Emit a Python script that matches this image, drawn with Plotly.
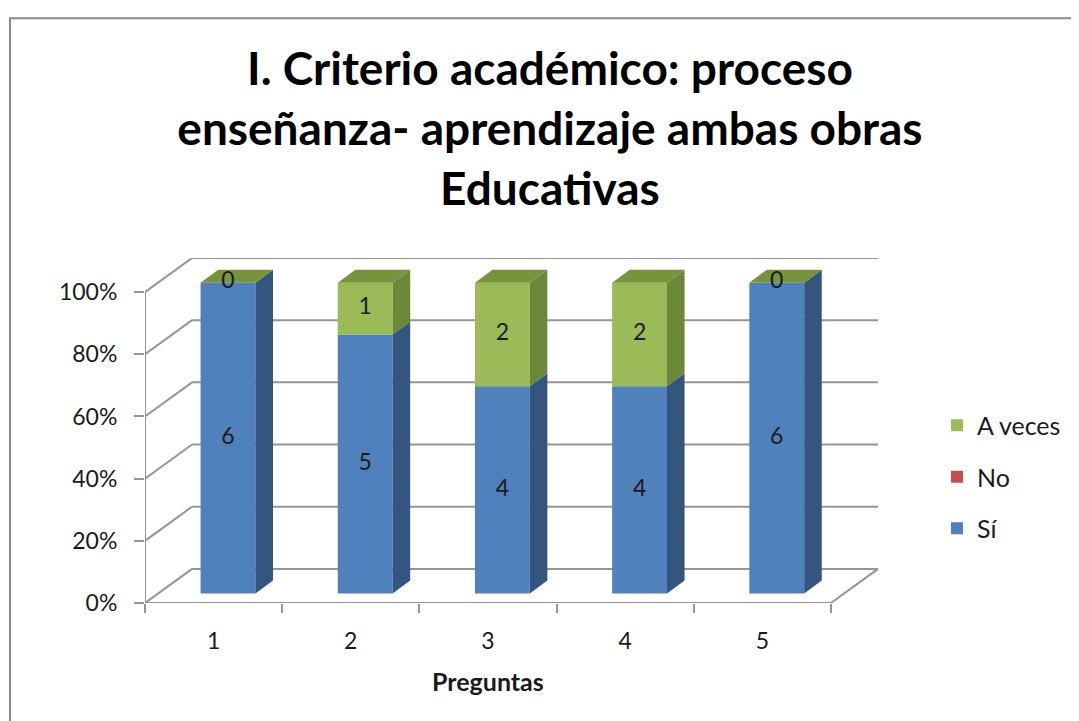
import plotly.graph_objects as go

# ---------------- data ----------------
categories = [1, 2, 3, 4, 5]
si = [6, 5, 4, 4, 6]
no = [0, 0, 0, 0, 0]
a_veces = [0, 1, 2, 2, 0]
series_names = ["Sí", "No", "A veces"]
y_ticks = [0, 20, 40, 60, 80, 100]
y_tick_labels = ["0%", "20%", "40%", "60%", "80%", "100%"]
title_text = "I. Criterio académico: proceso<br>enseñanza- aprendizaje ambas obras<br>Educativas"
x_title = "Preguntas"

# ---------------- style ----------------
front_colors = ["#4F81BD", "#C0504D", "#9BBB59"]
side_colors = ["#34567E", "#8C3836", "#6B8739"]
top_colors = ["#5B8AC2", "#C85C59", "#77933C"]
legend_ranks = [3, 2, 1]
grid_color = "#959595"
DEPTH_X, DEPTH_Y = 0.343, 10.97     # back-wall offset (data units)
BAR_DX, BAR_DY = 0.105, 3.03        # bar front-face offset
SIDE_DX, SIDE_DY = 0.128, 4.19      # bar depth
BAR_W = 0.40
LABEL_FONT = "Lato, 'Open Sans', sans-serif"

series_values = [si, no, a_veces]
totals = [sum(v) for v in zip(*series_values)]
pcts = [[v / t * 100 for v, t in zip(vals, totals)] for vals in series_values]

x_lo, x_hi = categories[0] - 0.5, categories[-1] + 0.5

fig = go.Figure()

# ---- gridlines / walls (behind bars) ----
shapes = []
gl = dict(color=grid_color, width=2)
for v in y_ticks:
    shapes.append(dict(type="line", xref="x", yref="y", layer="below",
                       x0=x_lo, y0=v, x1=x_lo + DEPTH_X, y1=v + DEPTH_Y, line=gl))
    shapes.append(dict(type="line", xref="x", yref="y", layer="below",
                       x0=x_lo + DEPTH_X, y0=v + DEPTH_Y, x1=x_hi + DEPTH_X, y1=v + DEPTH_Y, line=gl))
# floor front edge, right edge, vertical axis line
shapes.append(dict(type="line", xref="x", yref="y", layer="below",
                   x0=x_lo, y0=0, x1=x_hi, y1=0, line=gl))
shapes.append(dict(type="line", xref="x", yref="y", layer="below",
                   x0=x_hi, y0=0, x1=x_hi + DEPTH_X, y1=DEPTH_Y, line=gl))
shapes.append(dict(type="line", xref="x", yref="y", layer="below",
                   x0=x_lo, y0=0, x1=x_lo, y1=y_ticks[-1], line=gl))
# chart frame
shapes.append(dict(type="rect", xref="paper", yref="paper", layer="below",
                   x0=-0.1842, y0=-0.6, x1=1.4, y1=1.695,
                   line=dict(color="#8A8A8A", width=2), fillcolor="rgba(0,0,0,0)"))

# ---- front faces as bars ----
cum = [0.0] * len(categories)
bases_all = []
for name, vals, col, rank in zip(series_names, pcts, front_colors, legend_ranks):
    bases = [BAR_DY + c for c in cum]
    bases_all.append(bases)
    fig.add_trace(go.Bar(
        x=[c + BAR_DX for c in categories], y=vals, base=bases, width=BAR_W,
        name=name, legendgroup=name, legendrank=rank,
        marker=dict(color=col, line=dict(width=0)),
        hoverinfo="skip",
    ))
    cum = [c + v for c, v in zip(cum, vals)]

# ---- side faces ----
for name, vals, bases, col in zip(series_names, pcts, bases_all, side_colors):
    xs, ys = [], []
    for c, h, b in zip(categories, vals, bases):
        if h <= 0:
            continue
        xr = c + BAR_DX + BAR_W / 2
        t = b + h
        xs += [xr, xr + SIDE_DX, xr + SIDE_DX, xr, xr, None]
        ys += [b, b + SIDE_DY, t + SIDE_DY, t, b, None]
    if xs:
        fig.add_trace(go.Scatter(x=xs, y=ys, mode="lines", fill="toself", fillcolor=col,
                                 line=dict(width=0, color=col), showlegend=False, hoverinfo="skip"))

# ---- top faces (colour of topmost series) ----
xs, ys = [], []
for i, c in enumerate(categories):
    t = BAR_DY + cum[i]
    xl = c + BAR_DX - BAR_W / 2
    xr = c + BAR_DX + BAR_W / 2
    xs += [xl, xl + SIDE_DX, xr + SIDE_DX, xr, xl, None]
    ys += [t, t + SIDE_DY, t + SIDE_DY, t, t, None]
fig.add_trace(go.Scatter(x=xs, y=ys, mode="lines", fill="toself", fillcolor=top_colors[-1],
                         line=dict(width=0, color=top_colors[-1]), showlegend=False, hoverinfo="skip"))

# ---- data labels (Sí and A veces) ----
for idx in (0, 2):
    vals_raw = series_values[idx]
    fig.add_trace(go.Scatter(
        x=[c + BAR_DX for c in categories],
        y=[b + h / 2 for b, h in zip(bases_all[idx], pcts[idx])],
        text=[str(v) for v in vals_raw], mode="text",
        textfont=dict(family=LABEL_FONT, size=23, color="#1a1a1a"),
        showlegend=False, hoverinfo="skip", cliponaxis=False,
    ))

# x-axis title
fig.add_annotation(x=(x_lo + x_hi) / 2, xref="x", y=-0.226, yref="paper",
                   text="<b>" + x_title + "</b>", showarrow=False, yanchor="middle",
                   font=dict(family=LABEL_FONT, size=25, color="#1a1a1a"))

fig.update_layout(
    width=1071, height=713,
    margin=dict(l=137, r=201, t=250, b=118, autoexpand=False),
    paper_bgcolor="white", plot_bgcolor="white",
    barmode="overlay",
    title=dict(text="<b>" + title_text + "</b>", x=0.506, xanchor="center",
               y=0.892, yanchor="middle",
               font=dict(family=LABEL_FONT, size=46, color="#000000")),
    shapes=shapes,
    showlegend=True,
    legend=dict(x=1.0805, xanchor="left", y=0.365, yanchor="middle",
                traceorder="grouped", tracegroupgap=16,
                font=dict(family=LABEL_FONT, size=25, color="#1a1a1a"),
                bgcolor="rgba(0,0,0,0)"),
    xaxis=dict(range=[x_lo, x_hi + DEPTH_X], tickmode="array", tickvals=categories,
               ticktext=[str(c) for c in categories], ticks="", showgrid=False,
               zeroline=False, showline=False, ticklabelstandoff=22,
               tickfont=dict(family=LABEL_FONT, size=23, color="#1a1a1a"),
               minor=dict(tickmode="array",
                          tickvals=[c - 0.5 for c in categories] + [x_hi],
                          ticks="outside", ticklen=9, tickwidth=2, tickcolor=grid_color,
                          showgrid=False)),
    yaxis=dict(range=[0, y_ticks[-1] + DEPTH_Y], tickmode="array", tickvals=y_ticks,
               ticktext=y_tick_labels, ticks="outside", ticklen=10, tickwidth=2,
               tickcolor=grid_color, showgrid=False, zeroline=False, showline=False,
               ticklabelstandoff=12,
               tickfont=dict(family=LABEL_FONT, size=23, color="#1a1a1a")),
)

fig.write_html("out.html")
